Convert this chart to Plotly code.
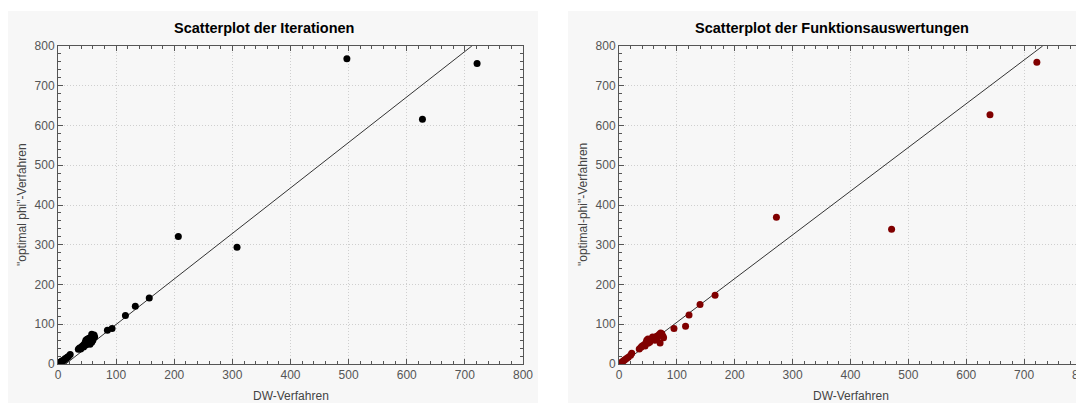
import plotly.graph_objects as go

# ---- data ----
iter_dw = [2, 4, 6, 8, 10, 12, 14, 16, 18, 21,
           35, 37, 39, 40, 42, 44, 45, 47, 48, 48, 50, 50, 52, 53, 55, 55, 57, 58, 58, 60, 60, 62, 63,
           85, 93, 116, 133, 157, 207, 308, 497, 627, 721]
iter_phi = [2, 5, 6, 9, 9, 13, 14, 17, 19, 24,
            37, 40, 38, 42, 45, 43, 50, 55, 48, 60, 52, 62, 58, 65, 62, 50, 65, 55, 75, 70, 60, 73, 68,
            85, 89, 122, 145, 166, 321, 294, 768, 616, 756]

func_dw = [3, 5, 8, 10, 13, 16, 20, 22,
           35, 38, 40, 43, 45, 45, 47, 48, 50, 50, 52, 53, 55, 57, 58, 60, 62, 65, 65, 68, 70, 71, 72, 74, 76, 77,
           95, 115, 121, 140, 166, 272, 471, 641, 722]
func_phi = [2, 5, 8, 11, 14, 17, 22, 27,
            38, 42, 45, 48, 50, 45, 55, 60, 52, 63, 58, 55, 60, 63, 68, 65, 60, 70, 62, 72, 75, 53, 78, 76, 70, 66,
            89, 95, 123, 150, 173, 369, 339, 627, 759]

iter_fit_x = [0, 712]
iter_fit_y = [-15, 800]
func_fit_x = [0, 732]
func_fit_y = [-5, 800]

ticks = [0, 100, 200, 300, 400, 500, 600, 700, 800]

titles = ["Scatterplot der Iterationen", "Scatterplot der Funktionsauswertungen"]
xtitles = ["DW-Verfahren", "DW-Verfahren"]
ytitles = ['"optimal phi"-Verfahren', '"optimal-phi"-Verfahren']

# ---- layout geometry (window pixels; page body has an 8px margin) ----
OFF = 8
W, H = 1084 - OFF, 403 - OFF

def px(x):
    return (x - OFF) / W

def py(y):
    return 1 - (y - OFF) / H

plots = [(58, 523), (619, 1082)]
ptop, pbot = 46, 364
panels = [(8, 538), (568, 1084)]
bg = "#f7f7f7"

fig = go.Figure()

fig.add_trace(go.Scatter(x=iter_fit_x, y=iter_fit_y, mode="lines",
                         line=dict(color="#333333", width=1), xaxis="x", yaxis="y", hoverinfo="skip"))
fig.add_trace(go.Scatter(x=iter_dw, y=iter_phi, mode="markers",
                         marker=dict(color="#000000", size=7), xaxis="x", yaxis="y"))
fig.add_trace(go.Scatter(x=func_fit_x, y=func_fit_y, mode="lines",
                         line=dict(color="#333333", width=1), xaxis="x2", yaxis="y2", hoverinfo="skip"))
fig.add_trace(go.Scatter(x=func_dw, y=func_phi, mode="markers",
                         marker=dict(color="#800000", size=7), xaxis="x2", yaxis="y2"))

def axis(domain, anchor):
    return dict(domain=domain, anchor=anchor, range=[0, 800], tickvals=ticks,
                showgrid=True, gridcolor="#cfcfcf", griddash="1px,2px", gridwidth=1,
                showline=True, linecolor="#555555", linewidth=1, mirror="allticks",
                ticks="inside", ticklen=5, tickcolor="#555555",
                minor=dict(dtick=20, ticks="inside", ticklen=3, tickcolor="#555555", showgrid=False),
                tickfont=dict(family="Liberation Sans Narrow, Arial Narrow, Liberation Sans, Arial", size=12, color="#555555"),
                zeroline=False, fixedrange=True, automargin=False, ticklabeloverflow="allow")

ydom = [py(pbot), py(ptop)]
fig.update_layout(
    width=W, height=H, margin=dict(l=0, r=0, t=0, b=0, pad=0, autoexpand=False),
    paper_bgcolor="white", plot_bgcolor=bg, showlegend=False,
    xaxis=axis([px(plots[0][0]), px(plots[0][1])], "y"),
    yaxis=axis(ydom, "x"),
    xaxis2=axis([px(plots[1][0]), px(plots[1][1])], "y2"),
    yaxis2=axis(ydom, "x2"),
)

shapes = []
for (a, b) in panels:
    shapes.append(dict(type="rect", xref="paper", yref="paper", x0=px(a), x1=px(b),
                       y0=0, y1=py(11), fillcolor=bg, line=dict(width=0), layer="below"))
fig.update_layout(shapes=shapes)

ann = []
title_cx = [264, 832]
for i in range(2):
    pl, pr = plots[i]
    ann.append(dict(text="<b>" + titles[i] + "</b>", x=px(title_cx[i]), y=py(28), xref="paper", yref="paper",
                    showarrow=False, xanchor="center", yanchor="middle",
                    font=dict(family="Liberation Sans, Arial", size=14.5, color="#000000")))
    ann.append(dict(text=xtitles[i], x=px((pl + pr) / 2), y=py(396), xref="paper", yref="paper",
                    showarrow=False, xanchor="center", yanchor="middle",
                    font=dict(family="Liberation Sans, Arial", size=12, color="#444444")))
    ann.append(dict(text=ytitles[i], x=px(pl - 36), y=py((ptop + pbot) / 2), xref="paper", yref="paper",
                    showarrow=False, xanchor="center", yanchor="middle", textangle=-90,
                    font=dict(family="Liberation Sans, Arial", size=12, color="#444444")))
fig.update_layout(annotations=ann)

fig.write_html("out.html")
